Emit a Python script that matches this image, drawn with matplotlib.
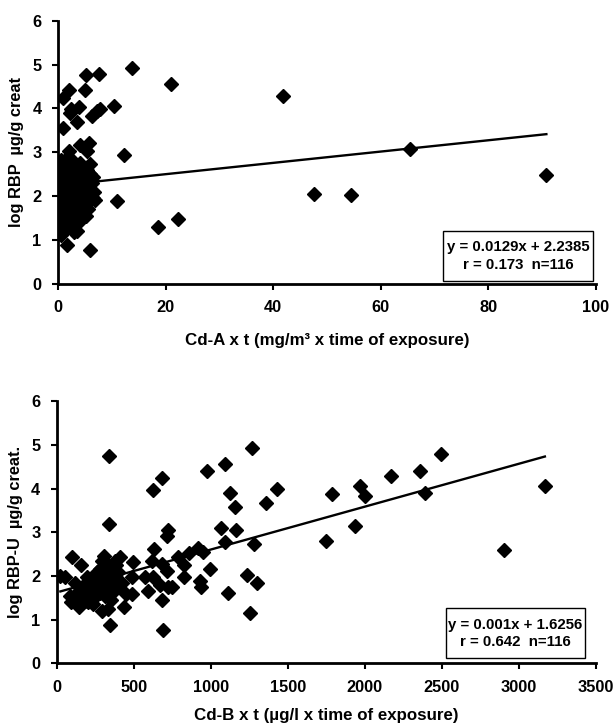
import matplotlib
matplotlib.use('Agg')
import matplotlib.pyplot as plt
from matplotlib.patches import Rectangle

plt.rcParams['font.family'] = ['Liberation Sans', 'DejaVu Sans']
plt.rcParams['font.weight'] = 'bold'

# --- panel A: Cd-A x t vs log RBP ---
cda_x = [13.7, 20.9, 41.8, 12.2, 11.0, 18.6, 22.2, 47.5, 6.0, 1.6,
         10.4, 7.6, 5.2, 5.0, 2.0, 0.9, 0.9, 3.9, 2.3, 2.2,
         3.5, 6.2, 7.2, 7.8, 4.0, 5.8, 5.3, 2.0, 6.0, 4.4,
         2.5, 6.5, 0.6, 6.5, 2.9, 0.5, 54.4, 65.5, 90.8, 0.3,
         0.2, 0.3, 0.4, 0.5, 0.3, 0.6, 0.2, 0.8, 0.5, 0.9,
         1.0, 1.1, 0.7, 1.2, 1.3, 1.5, 1.4, 1.6, 1.8, 1.5,
         2.0, 2.1, 2.3, 2.2, 2.5, 2.6, 2.8, 2.7, 3.0, 3.1,
         3.3, 3.5, 3.6, 3.8, 4.0, 4.2, 4.5, 4.7, 5.0, 5.3,
         5.5, 5.8, 6.2, 6.6, 0.1, 0.4, 1.0, 1.9, 2.4, 3.2,
         4.1, 0.6, 1.7, 2.9, 3.4, 4.3, 5.1, 0.9, 1.3, 2.0,
         2.5, 3.9, 4.8, 5.6, 0.2, 1.1, 1.8, 2.6, 3.7, 4.4,
         5.9, 6.8, 0.7, 1.6, 3.5, 2.2]
cda_y = [4.92, 4.56, 4.29, 2.93, 1.89, 1.30, 1.48, 2.05, 0.77, 0.87,
         4.06, 4.79, 4.75, 4.41, 4.41, 4.24, 3.56, 4.04, 3.99, 3.90,
         3.68, 3.83, 3.95, 3.99, 3.17, 3.20, 3.03, 3.03, 2.74, 2.64,
         2.70, 2.44, 2.81, 1.95, 1.17, 1.13, 2.02, 3.08, 2.48, 1.24,
         2.25, 2.05, 1.85, 1.65, 1.45, 1.35, 1.55, 2.60, 2.45, 2.15,
         1.95, 1.75, 1.55, 1.40, 2.35, 2.55, 2.05, 1.85, 1.65, 1.50,
         2.25, 1.95, 1.75, 1.45, 2.45, 2.10, 1.85, 1.55, 2.30, 2.00,
         1.70, 1.45, 2.55, 2.15, 1.90, 1.65, 2.35, 2.05, 1.80, 2.60,
         2.20, 1.95, 2.30, 2.10, 1.20, 2.70, 2.80, 2.70, 2.85, 2.60,
         2.75, 1.10, 1.30, 1.35, 1.20, 1.45, 1.55, 1.25, 1.60, 1.60,
         1.30, 1.75, 2.50, 1.70, 2.50, 2.30, 2.10, 2.60, 2.40, 2.20,
         2.50, 1.90, 2.00, 2.40, 1.95, 2.05]
trend_a = (0.0129, 2.2385)
label_a = 'y = 0.0129x + 2.2385\nr = 0.173  n=116'

# --- panel B: Cd-B x t vs log RBP-U ---
cdb_x = [335, 626, 680, 975, 1094, 1267, 1122, 1155, 1360, 1431,
         335, 723, 712, 1064, 1161, 1094, 1280, 917, 950, 993,
         928, 935, 1111, 1234, 1301, 1252, 345, 686, 632, 615,
         626, 788, 826, 826, 855, 680, 712, 680, 669, 723,
         745, 572, 594, 496, 486, 490, 447, 438, 410, 378,
         97, 158, 22, 54, 194, 291, 330, 86, 108, 140,
         183, 227, 237, 119,
         1788, 1965, 2000, 1749, 1933, 2169, 2355, 2390, 2496, 2903,
         3169,
         280, 300, 310, 320, 330, 340, 350, 360, 300, 320,
         290, 345, 365, 375, 260, 270, 250, 230, 210, 190,
         170, 150, 130, 110, 90, 200, 240, 280, 310, 335,
         355, 380, 395, 420, 305, 325, 285, 350, 160, 225,
         400]
cdb_y = [4.74, 3.97, 4.25, 4.41, 4.57, 4.93, 3.90, 3.57, 3.67, 3.98,
         3.19, 3.04, 2.92, 3.10, 3.04, 2.77, 2.73, 2.65, 2.54, 2.15,
         1.89, 1.74, 1.62, 2.02, 1.85, 1.16, 0.87, 0.76, 2.62, 2.35,
         1.97, 2.43, 2.24, 1.97, 2.52, 2.27, 2.12, 1.45, 1.80, 1.75,
         1.74, 1.97, 1.66, 2.31, 1.98, 1.58, 1.58, 1.29, 2.43, 2.35,
         2.43, 2.25, 2.00, 1.98, 1.97, 1.20, 1.24, 1.55, 1.47, 1.29,
         1.43, 1.55, 1.35, 1.85,
         3.88, 4.05, 3.83, 2.81, 3.15, 4.29, 4.40, 3.90, 4.78, 2.60,
         4.06,
         2.15, 2.05, 1.95, 1.85, 2.10, 1.90, 2.00, 1.80, 1.75, 2.30,
         2.35, 2.20, 2.05, 1.95, 2.10, 1.90, 1.75, 1.65, 1.60, 1.70,
         1.50, 1.60, 1.45, 1.55, 1.40, 1.40, 1.50, 1.60, 1.55, 1.70,
         1.60, 2.25, 2.10, 1.85, 2.45, 2.00, 1.85, 1.45, 1.75, 1.90,
         1.75]
trend_b = (0.00098, 1.6256)
label_b = 'y = 0.001x + 1.6256\nr = 0.642  n=116'


def panel(ax, xs, ys, trend, xmax, xstep, xlabel, ylabel, box_text, box, xpad):
    ax.plot(xs, ys, 'D', color='black', markersize=6.8, zorder=3)
    x0, x1 = min(xs), max(xs)
    ax.plot([x0, x1], [trend[0] * x0 + trend[1], trend[0] * x1 + trend[1]],
            color='black', lw=1.7, zorder=4)
    ax.set_xlim(0, xmax)
    ax.set_ylim(0, 6)
    ax.set_xticks(range(0, xmax + 1, xstep))
    ax.set_yticks(range(0, 7))
    for s in ['top', 'right']:
        ax.spines[s].set_visible(False)
    for s in ['left', 'bottom']:
        ax.spines[s].set_linewidth(2.0)
    ax.tick_params(direction='out', length=4, width=1.5, labelsize=11.8, pad=8)
    ax.set_xlabel(xlabel, fontsize=12.2, fontweight='bold', labelpad=xpad)
    ax.set_ylabel(ylabel, fontsize=11.8, fontweight='bold', labelpad=6)
    bx0, by0, bx1, by1 = box
    ax.add_patch(Rectangle((bx0, by0), bx1 - bx0, by1 - by0, transform=ax.transAxes,
                           facecolor='white', edgecolor='black', lw=1.0, zorder=5,
                           clip_on=False))
    ax.text((bx0 + bx1) / 2, (by0 + by1) / 2, box_text, transform=ax.transAxes,
            ha='center', va='center', fontsize=10.8, fontweight='bold',
            linespacing=1.3, zorder=6)


fig = plt.figure(figsize=(6.13, 7.24), dpi=100)
ax1 = fig.add_axes([0.095, 0.6084, 0.877, 0.363])
ax2 = fig.add_axes([0.093, 0.0836, 0.879, 0.3625])

panel(ax1, cda_x, cda_y, trend_a, 100, 20,
      'Cd-A x t (mg/m\u00b3 x time of exposure)', 'log RBP  \u00b5g/g creat',
      label_a, (0.715, 0.01, 0.995, 0.2), 13)
panel(ax2, cdb_x, cdb_y, trend_b, 3500, 500,
      'Cd-B x t (\u00b5g/l x time of exposure)', 'log RBP-U  \u00b5g/g creat.',
      label_b, (0.722, 0.021, 0.98, 0.21), 9)

fig.savefig('out.png', dpi=100)
